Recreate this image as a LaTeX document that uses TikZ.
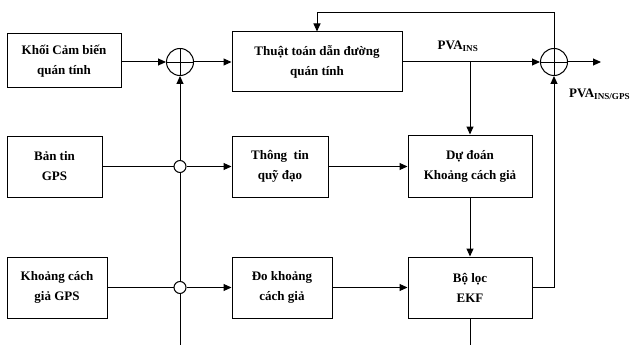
\documentclass[tikz,border=0pt]{standalone}
\usepackage{fontspec}
\setmainfont{Liberation Serif}
\usetikzlibrary{arrows.meta}
\begin{document}
\begin{tikzpicture}[x=1pt,y=-1pt,
  blk/.style={draw,line width=1pt,align=center,inner sep=2pt,font=\bfseries\fontsize{13}{20}\selectfont},
  sumnode/.style={draw,circle,line width=1pt,minimum size=27pt,inner sep=0pt,
    path picture={\draw[line width=0.8pt] (path picture bounding box.north) -- (path picture bounding box.south)
      (path picture bounding box.west) -- (path picture bounding box.east);}},
  dot/.style={draw,circle,line width=1pt,fill=white,minimum size=12pt,inner sep=0pt},
  conn/.style={line width=1pt},
  arr/.style={line width=1pt,-{Triangle[length=8pt,width=7pt]}},
  lbl/.style={font=\bfseries\fontsize{13}{15}\selectfont,inner sep=0pt}
]
\useasboundingbox (0,0) rectangle (635,345);
\node[blk,minimum width=114pt,minimum height=54pt] (imu) at (64,61) {Khối Cảm biến\\quán tính};
\node[blk,minimum width=170pt,minimum height=60pt] (ins) at (317,62) {Thuật toán dẫn đường\\quán tính};
\node[blk,minimum width=95pt,minimum height=61pt] (gps) at (54.5,166.5) {Bản tin\\GPS};
\node[blk,minimum width=96pt,minimum height=61pt] (orb) at (280,166.5) {Thông\ \ tin\\quỹ đạo};
\node[blk,minimum width=124pt,minimum height=62pt] (pred) at (470,166) {Dự đoán\\Khoảng cách giả};
\node[blk,minimum width=100pt,minimum height=61pt] (pr) at (57,287.5) {Khoảng cách\\giả GPS};
\node[blk,minimum width=100pt,minimum height=61pt] (meas) at (282,287.5) {Đo khoảng\\cách giả};
\node[blk,minimum width=124pt,minimum height=61pt] (ekf) at (470,287.5) {Bộ lọc\\EKF};
\node[sumnode] (s1) at (180,62) {};
\node[sumnode] (s2) at (554,62) {};
\node[dot] (c1) at (180,166.5) {};
\node[dot] (c2) at (180,287.5) {};
\coordinate (bot1) at (180,345);
\coordinate (bot2) at (470,345);
\coordinate (out) at (601,62);
\coordinate (br) at (470,62);
\coordinate (fbA) at (554,13);
\coordinate (fbB) at (317,13);
\node[lbl] (l1) at (458,46) {PVA\textsubscript{INS}};
\node[lbl,anchor=west] (l2) at (569,94) {PVA\textsubscript{INS/GPS}};
% connectors
\draw[arr] (imu.east |- s1) -- (s1.west);
\draw[arr] (s1.east) -- (ins.west);
\draw[arr] (ins.east |- s2) -- (s2.west);
\draw[arr] (s2.east) -- (out);
\draw[arr] (br) -- (pred.north);
\draw[arr] (s2.north) -- (fbA) -- (fbB) -- (ins.north);
\draw[conn] (gps.east |- c1) -- (c1.west);
\draw[arr] (c1.east) -- (orb.west);
\draw[arr] (orb.east) -- (pred.west |- orb.east);
\draw[arr] (pred.south) -- (ekf.north);
\draw[conn] (pr.east |- c2) -- (c2.west);
\draw[arr] (c2.east) -- (meas.west);
\draw[arr] (meas.east) -- (ekf.west |- meas.east);
\draw[arr] (ekf.east) -| (s2.south);
\draw[conn] (ekf.south) -- (bot2);
\draw[conn] (bot1) -- (c2.south);
\draw[conn] (c2.north) -- (c1.south);
\draw[arr] (c1.north) -- (s1.south);
\end{tikzpicture}
\end{document}
